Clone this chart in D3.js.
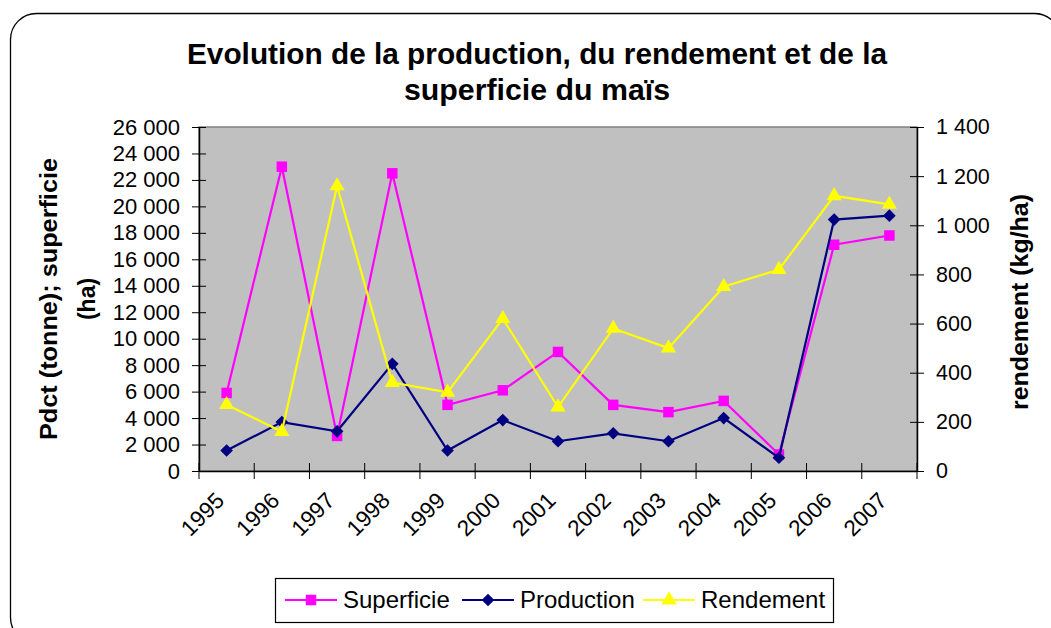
<!DOCTYPE html>
<html>
<head>
<meta charset="utf-8">
<script src="https://cdn.jsdelivr.net/npm/d3@7"></script>
<style>
	body { margin: 0; background: #fff; }
	svg { display: block; font-family: 'Liberation Sans', Arial, sans-serif; }
</style>
</head>
<body>
<div id="chart"></div>
<script>
// Data
const years = ['1995', '1996', '1997', '1998', '1999', '2000', '2001', '2002', '2003', '2004', '2005', '2006', '2007'];
const superficie = [5900, 23000, 2650, 22500, 5000, 6100, 9000, 5000, 4450, 5300, 1250, 17100, 17800];
const production = [1550, 3700, 3000, 8100, 1550, 3850, 2250, 2850, 2250, 4000, 1000, 19000, 19300];
const rendement = [270, 160, 1160, 360, 320, 620, 260, 580, 500, 750, 820, 1120, 1085];
const leftTicks = d3.range(0, 26001, 2000);
const rightTicks = d3.range(0, 1401, 200);

// Attribute
const width = 1051;
const height = 628;
const margin = { top: 127, right: 134, bottom: 157, left: 199 };

const fr = d3.formatLocale({ decimal: ',', thousands: ' ', grouping: [3], currency: ['', ''] });
const fmt = fr.format(',d');

const svg = d3.select('#chart').append('svg')
	.attr('width', width).attr('height', height)
	.attr('viewBox', [0, 0, width, height]);

// chart frame (runs off the right and bottom edge)
svg.append('rect')
	.attr('x', 10.5).attr('y', 13.5)
	.attr('width', 1050).attr('height', 630)
	.attr('rx', 26).attr('ry', 26)
	.attr('fill', '#fff').attr('stroke', '#000').attr('stroke-width', 1.3);

const x = d3.scaleBand()
	.domain(years)
	.range([margin.left, width - margin.right]);

const yL = d3.scaleLinear()
	.domain([0, 26000])
	.range([height - margin.bottom, margin.top]);

const yR = d3.scaleLinear()
	.domain([0, 1400])
	.range([height - margin.bottom, margin.top]);

const cx = (d, i) => x(years[i]) + x.bandwidth() / 2;

// plot area
svg.append('rect')
	.attr('x', margin.left).attr('y', margin.top)
	.attr('width', width - margin.right - margin.left)
	.attr('height', height - margin.bottom - margin.top)
	.attr('fill', '#c0c0c0')
	.attr('stroke', '#808080').attr('stroke-width', 1.5);

// axes
const gL = svg.append('g')
	.attr('transform', `translate(${margin.left},0)`)
	.call(d3.axisLeft(yL).tickValues(leftTicks).tickFormat(fmt).tickSizeInner(7).tickSizeOuter(0).tickPadding(12));
gL.selectAll('.tick line').attr('x2', -7).attr('x1', 7);

const gR = svg.append('g')
	.attr('transform', `translate(${width - margin.right},0)`)
	.call(d3.axisRight(yR).tickValues(rightTicks).tickFormat(fmt).tickSizeInner(7).tickSizeOuter(0).tickPadding(12));
gR.selectAll('.tick line').attr('x1', -7).attr('x2', 7);

const gB = svg.append('g')
	.attr('transform', `translate(0,${height - margin.bottom})`)
	.call(d3.axisBottom(x).tickSize(0).tickPadding(0));
gB.selectAll('.tick line').remove();
// ticks between categories
gB.selectAll('.sep')
	.data(d3.range(years.length + 1))
	.join('line')
	.attr('x1', (i) => margin.left + i * x.step())
	.attr('x2', (i) => margin.left + i * x.step())
	.attr('y1', -8).attr('y2', 8)
	.attr('stroke', '#000');

[gL, gR, gB].forEach((g) => {
	g.selectAll('.domain').attr('stroke', '#000').attr('stroke-width', 1.5);
	g.selectAll('text').attr('font-size', 22).attr('fill', '#000').attr('font-family', 'Liberation Sans, Arial, sans-serif');
});
gR.selectAll('text').attr('font-size', 21.5);
gB.selectAll('.tick text')
	.attr('text-anchor', 'end')
	.attr('dy', 0)
	.attr('font-size', 22.5)
	.attr('transform', 'translate(-1,31) rotate(-45)');

// series
const diamond = {
	draw(ctx, size) {
		const r = Math.sqrt(size / 2);
		ctx.moveTo(0, -r);
		ctx.lineTo(r, 0);
		ctx.lineTo(0, r);
		ctx.lineTo(-r, 0);
		ctx.closePath();
	},
};
const series = [
	{ name: 'Superficie', values: superficie, y: yL, color: '#ff00ff', symbol: d3.symbolSquare, size: 110 },
	{ name: 'Production', values: production, y: yL, color: '#000080', symbol: diamond, size: 80 },
	{ name: 'Rendement', values: rendement, y: yR, color: '#ffff00', symbol: d3.symbolTriangle, size: 100 },
];

series.forEach((s) => {
	const line = d3.line().x(cx).y((d) => s.y(d));
	svg.append('path')
		.datum(s.values)
		.attr('fill', 'none')
		.attr('stroke', s.color)
		.attr('stroke-width', 2.2)
		.attr('d', line);
	svg.append('g')
		.selectAll('path')
		.data(s.values)
		.join('path')
		.attr('transform', (d, i) => `translate(${cx(d, i)},${s.y(d)})`)
		.attr('d', d3.symbol(s.symbol, s.size))
		.attr('fill', s.color);
});

// title
const title = svg.append('text')
	.attr('text-anchor', 'middle')
	.attr('font-weight', 'bold')
	.attr('font-size', 29);
title.append('tspan').attr('x', 537).attr('y', 64)
	.attr('textLength', 700).attr('lengthAdjust', 'spacingAndGlyphs')
	.text('Evolution de la production, du rendement et de la');
title.append('tspan').attr('x', 537).attr('y', 100)
	.attr('textLength', 266).attr('lengthAdjust', 'spacingAndGlyphs')
	.text('superficie du maïs');

// axis titles
const yTitle = svg.append('text')
	.attr('transform', 'translate(0,299) rotate(-90)')
	.attr('text-anchor', 'middle')
	.attr('font-weight', 'bold')
	.attr('font-size', 23);
yTitle.append('tspan').attr('x', 0).attr('y', 57)
	.attr('textLength', 282).attr('lengthAdjust', 'spacingAndGlyphs')
	.text('Pdct (tonne); superficie');
yTitle.append('tspan').attr('x', 0).attr('y', 95).text('(ha)');

svg.append('text')
	.attr('transform', 'translate(1028,302) rotate(-90)')
	.attr('text-anchor', 'middle')
	.attr('font-weight', 'bold')
	.attr('font-size', 23)
	.attr('textLength', 216).attr('lengthAdjust', 'spacingAndGlyphs')
	.text('rendement (kg/ha)');

// legend
const legend = svg.append('g');
legend.append('rect')
	.attr('x', 275.5).attr('y', 578.5)
	.attr('width', 558).attr('height', 44)
	.attr('fill', '#fff').attr('stroke', '#000').attr('stroke-width', 1.2);
const legendX = [285, 462, 643];
const item = legend.selectAll('.item')
	.data(series)
	.join('g')
	.attr('transform', (d, i) => `translate(${legendX[i]},600)`);
item.append('line')
	.attr('x1', 0).attr('x2', 52)
	.attr('stroke', (d) => d.color).attr('stroke-width', 2.2);
item.append('path')
	.attr('transform', 'translate(26,0)')
	.attr('d', (d) => d3.symbol(d.symbol, d.size)())
	.attr('fill', (d) => d.color);
item.append('text')
	.attr('x', 58).attr('dy', '0.35em')
	.attr('font-size', 24)
	.text((d) => d.name);
</script>
</body>
</html>
